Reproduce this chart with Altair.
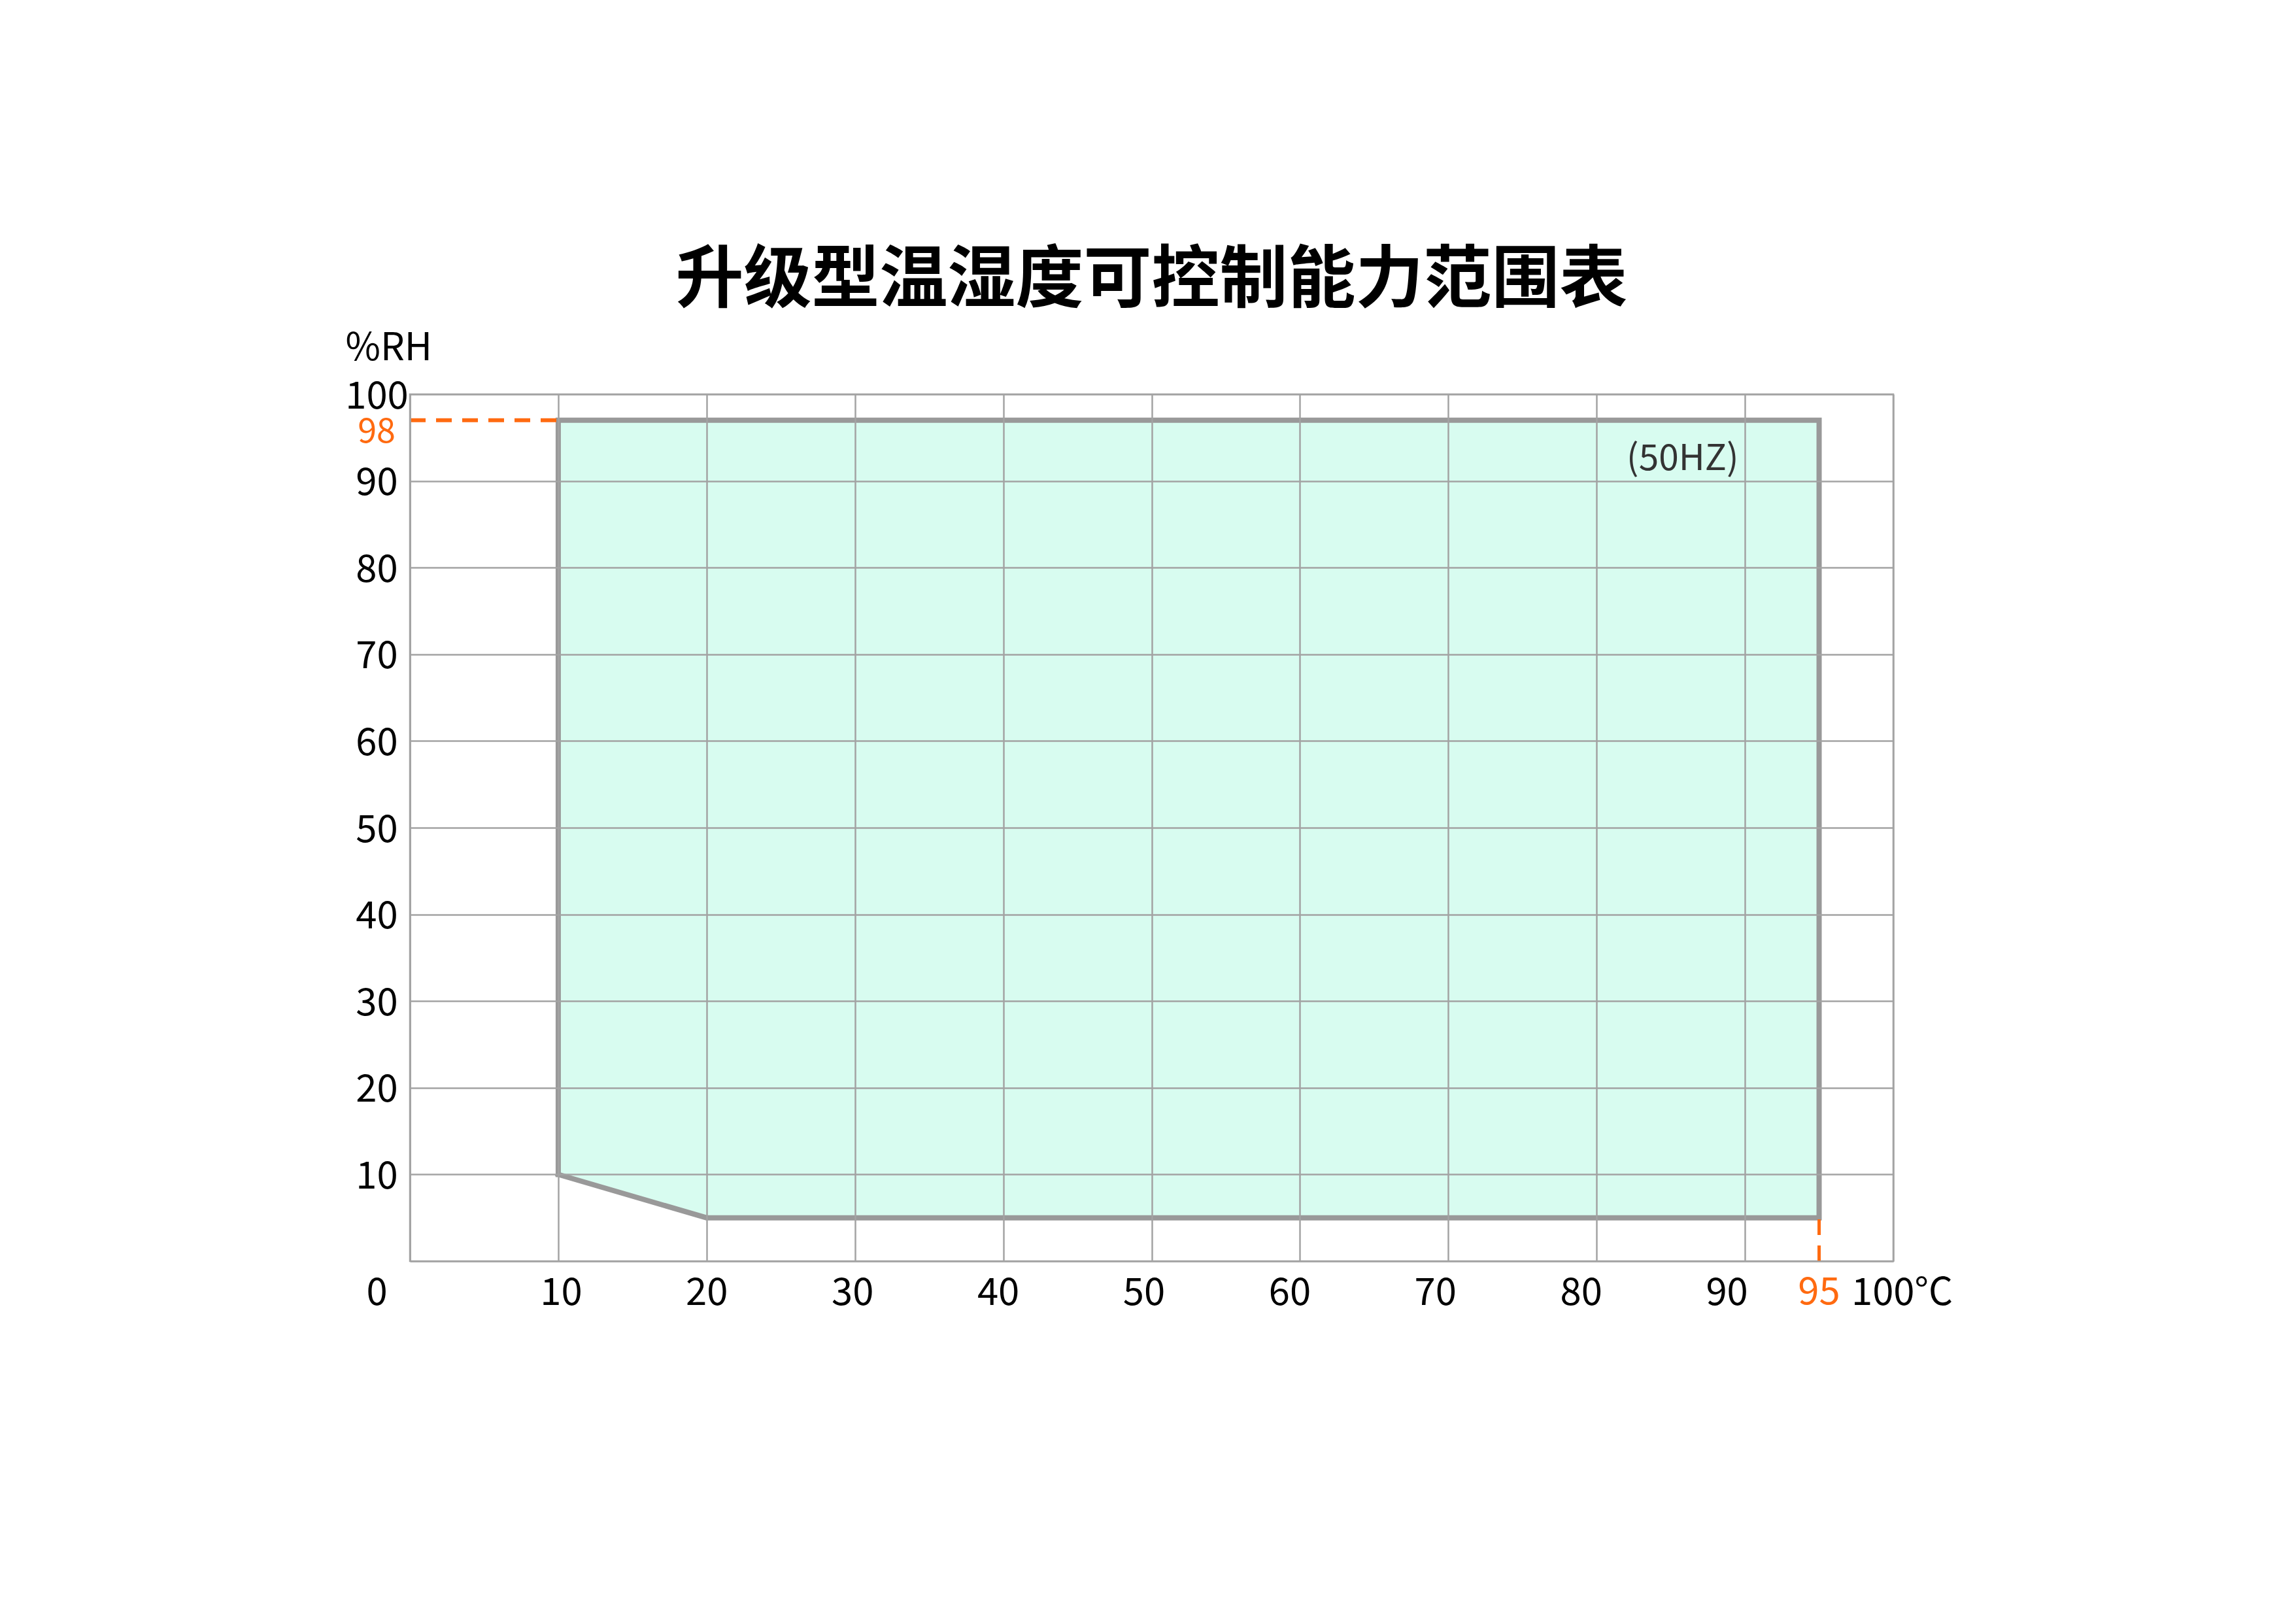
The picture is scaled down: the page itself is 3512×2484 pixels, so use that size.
import altair as alt
import pandas as pd

FONT = "Noto Sans CJK SC"
GRID = "#a3a3a3"
EDGE = "#999999"
FILL = "#d8fcf0"
ORANGE = "#ff6a10"

title_text = "升级型温湿度可控制能力范围表"

# control range boundary (temperature °C, humidity %RH)
outline_temp = [10, 10, 95, 95, 20, 10]
outline_rh = [10, 97, 97, 5, 5, 10]

# lower / upper humidity limits used for the filled region
fill_temp = [10, 20, 95]
fill_low = [10, 5, 5]
fill_high = [97, 97, 97]

x_ticks = [0, 10, 20, 30, 40, 50, 60, 70, 80, 90, 100]
y_ticks = [10, 20, 30, 40, 50, 60, 70, 80, 90, 100]

rh_marker = 97      # dashed marker at top humidity limit
rh_marker_label = "98"
temp_marker = 95
temp_marker_label = "95"
note_text = "(50HZ)"
note_temp = 85.8
note_rh = 92.5

fill_df = pd.DataFrame({"t": fill_temp, "lo": fill_low, "hi": fill_high})
outline_df = pd.DataFrame({"t": outline_temp, "rh": outline_rh, "o": list(range(len(outline_temp)))})

xs = alt.Scale(domain=[0, 100], nice=False, zero=False)
ys = alt.Scale(domain=[0, 100], nice=False, zero=False)

x_axis = alt.Axis(
    values=x_ticks, title=None, grid=True, gridColor=GRID, gridWidth=2.5,
    domain=True, domainColor=GRID, domainWidth=2.5, ticks=False, tickSize=0,
    labelFont=FONT, labelFontSize=58, labelColor="black", labelPadding=20,
    labelBaseline="top", labelAlign="center",
    labelExpr="datum.value == 100 ? '100°C' : datum.label",
    labelOffset={"expr": "datum.value == 0 ? -51 : (datum.value == 100 ? 13 : -0.4 * (datum.value - 20))"},
    labelFlush=False, labelOverlap=False, zindex=1,
)
y_axis = alt.Axis(
    values=y_ticks, grid=True, gridColor=GRID, gridWidth=2.5,
    domain=True, domainColor=GRID, domainWidth=2.5, ticks=False, tickSize=0,
    labelFont=FONT, labelFontSize=58, labelColor="black", labelPadding=51,
    labelAlign="center", labelBaseline="middle", labelOffset=4,
    labelFlush=False, labelOverlap=False,
    title="%RH", titleAngle=0, titleX=-99, titleY=-70, titleAlign="left",
    titleBaseline="middle", titleFont=FONT, titleFontSize=58, titleFontWeight="normal",
    titleColor="black", zindex=1,
)

fill_layer = alt.Chart(fill_df).mark_area(color=FILL, opacity=1).encode(
    x=alt.X("t:Q", scale=xs, axis=x_axis),
    y=alt.Y("lo:Q", scale=ys, axis=y_axis),
    y2="hi:Q",
)

outline_layer = alt.Chart(outline_df).mark_line(
    color=EDGE, strokeWidth=8, strokeJoin="miter", strokeCap="square"
).encode(
    x=alt.X("t:Q", scale=xs),
    y=alt.Y("rh:Q", scale=ys),
    order="o:Q",
)

hdash = alt.Chart(pd.DataFrame({"a": [0], "b": [10], "y": [rh_marker]})).mark_rule(
    color=ORANGE, strokeWidth=6, strokeDash=[24, 16]
).encode(
    x=alt.X("a:Q", scale=xs), x2="b:Q",
    y=alt.Y("y:Q", scale=ys),
)

vdash = alt.Chart(pd.DataFrame({"x": [temp_marker], "a": [0], "b": [5]})).mark_rule(
    color=ORANGE, strokeWidth=5, strokeDash=[24, 16]
).encode(
    x=alt.X("x:Q", scale=xs),
    y=alt.Y("a:Q", scale=ys), y2="b:Q",
)

rh_lab = alt.Chart(pd.DataFrame({"x": [0], "y": [rh_marker], "s": [rh_marker_label]})).mark_text(
    font=FONT, fontSize=52, color=ORANGE, align="center", baseline="middle", dx=-51, dy=18
).encode(
    x=alt.X("x:Q", scale=xs), y=alt.Y("y:Q", scale=ys), text="s:N"
)

t_lab = alt.Chart(pd.DataFrame({"x": [temp_marker], "y": [0], "s": [temp_marker_label]})).mark_text(
    font=FONT, fontSize=58, color=ORANGE, align="center", baseline="top", dy=20
).encode(
    x=alt.X("x:Q", scale=xs), y=alt.Y("y:Q", scale=ys), text="s:N"
)

note = alt.Chart(pd.DataFrame({"x": [note_temp], "y": [note_rh], "s": [note_text]})).mark_text(
    font=FONT, fontSize=55, color="#333333", align="center", baseline="middle"
).encode(
    x=alt.X("x:Q", scale=xs), y=alt.Y("y:Q", scale=ys), text="s:N"
)

chart = alt.layer(fill_layer, outline_layer, hdash, vdash, rh_lab, t_lab, note).properties(
    width=2269, height=1326,
    title=alt.TitleParams(
        text=title_text, font=FONT, fontSize=104, fontWeight="bold", color="black",
        anchor="middle", offset=20,
    ),
    autosize=alt.AutoSizeParams(type="none"),
    padding={"left": 619, "top": 595, "right": 500, "bottom": 400},
    background="white",
).configure_view(stroke=GRID, strokeWidth=2.5)

chart.save("out.html", embed_options={"renderer": "svg", "actions": False})
